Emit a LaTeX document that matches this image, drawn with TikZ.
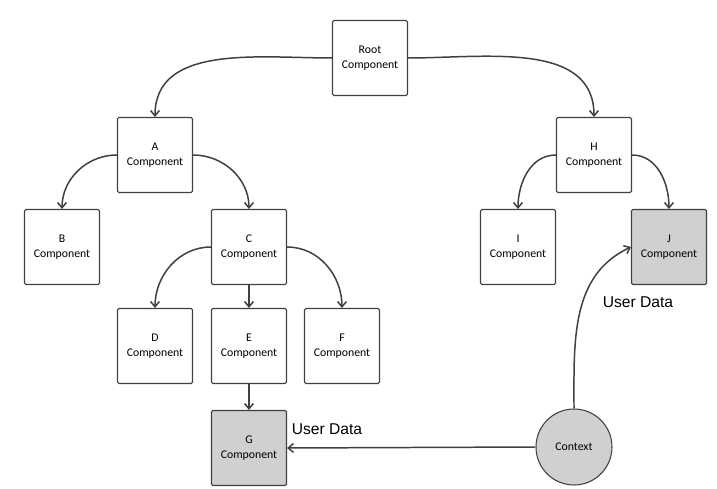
\documentclass[tikz,border=0pt]{standalone}
\usepackage{fontspec}
\setmainfont{Carlito}
\newfontfamily\labelfont{Liberation Sans}
\usetikzlibrary{arrows.meta}

\definecolor{linegray}{HTML}{404040}
\definecolor{boxgray}{HTML}{D0D0D0}

\tikzset{
  comp/.style={draw=linegray, line width=0.6pt, rounded corners=0.8pt, fill=white,
    minimum width=1.5cm, minimum height=1.5cm, inner sep=0pt,
    align=center, font=\fontsize{6.7}{8.5}\selectfont},
  shaded/.style={fill=boxgray},
  link/.style={draw=linegray, line width=0.85pt, -{Straight Barb[length=3pt,width=5pt]}},
  userlabel/.style={font=\labelfont\fontsize{8.9}{10}\selectfont}
}

\begin{document}
\begin{tikzpicture}[x=0.02cm, y=-0.02cm]
    \useasboundingbox (0,0) rectangle (717,489);

    % Komponenten
    \node[comp] (root) at (370,58) {Root\\Component};
    \node[comp] (a) at (155,155) {A\\Component};
    \node[comp] (h) at (594,155) {H\\Component};
    \node[comp] (b) at (62,247) {B\\Component};
    \node[comp] (c) at (249,247) {C\\Component};
    \node[comp] (i) at (518,247) {I\\Component};
    \node[comp, shaded] (j) at (669,247) {J\\Component};
    \node[comp] (d) at (155,346) {D\\Component};
    \node[comp] (e) at (249,346) {E\\Component};
    \node[comp] (f) at (342,346) {F\\Component};
    \node[comp, shaded] (g) at (249,448) {G\\Component};

    \node[draw=linegray, line width=0.6pt, fill=boxgray, circle, minimum size=1.52cm,
      inner sep=0pt, font=\fontsize{6.7}{8.5}\selectfont] (ctx) at (574,447) {Context};

    % Baum
    \draw[link] (root.west) to[out=180, in=90] (a.north);
    \draw[link] (root.east) to[out=0, in=90] (h.north);
    \draw[link] (a.west) to[out=180, in=90] (b.north);
    \draw[link] (a.east) to[out=0, in=90] (c.north);
    \draw[link] (c.west) to[out=180, in=90] (d.north);
    \draw[link] (c.south) -- (e.north);
    \draw[link] (c.east) to[out=0, in=90] (f.north);
    \draw[link] (h.west) to[out=180, in=90] (i.north);
    \draw[link] (h.east) to[out=0, in=90] (j.north);
    \draw[link] (e.south) -- (g.north);

    % Context
    \draw[link] (ctx.west) -- (g.east);
    \draw[link] (ctx.north) to[out=90, in=205] (j.west);

    \node[userlabel] (ulg) at (327,429) {User Data};
    \node[userlabel] (ulj) at (638,302) {User Data};
\end{tikzpicture}
\end{document}
